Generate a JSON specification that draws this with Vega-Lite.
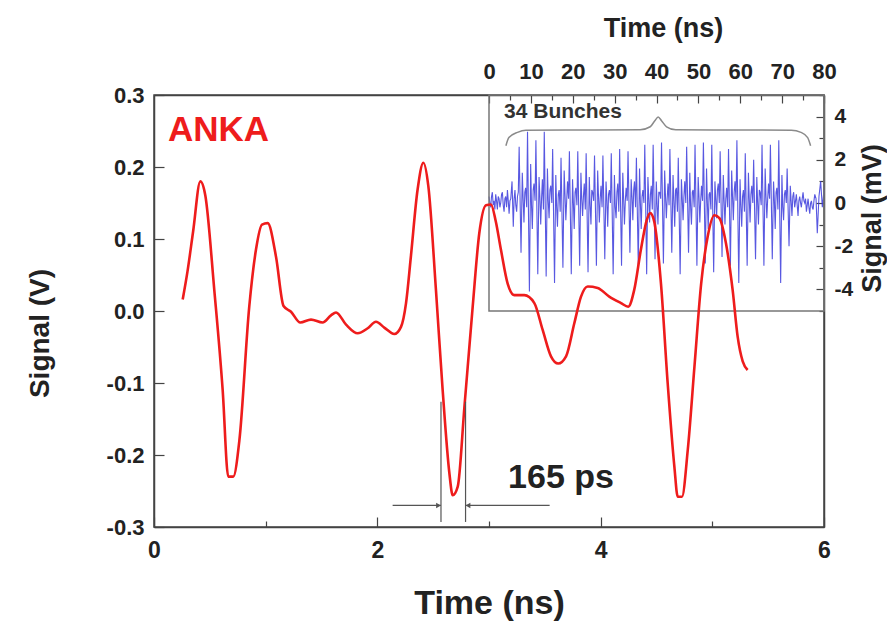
{
  "$schema": "https://vega.github.io/schema/vega-lite/v6.json",
  "width": 670,
  "height": 432,
  "autosize": {"type": "none"},
  "padding": {"left": 154, "top": 95, "right": 63, "bottom": 95},
  "background": "white",
  "config": {
    "font": "Liberation Sans",
    "view": {"stroke": "#444", "strokeWidth": 1.5},
    "axis": {
      "labelFont": "Liberation Sans",
      "labelFontWeight": "bold",
      "labelColor": "#222",
      "titleFont": "Liberation Sans",
      "titleFontWeight": "bold",
      "titleColor": "#222",
      "domainColor": "#444",
      "domainWidth": 1.5,
      "tickColor": "#444",
      "tickWidth": 1.2,
      "grid": false
    }
  },
  "datasets": {
    "ref": [
      {"t": 0.257, "v": 0.016}, {"t": 0.3, "v": 0.055}, {"t": 0.35, "v": 0.11}, {"t": 0.415, "v": 0.18},
      {"t": 0.46, "v": 0.16}, {"t": 0.54, "v": 0.029}, {"t": 0.615, "v": -0.11}, {"t": 0.665, "v": -0.23},
      {"t": 0.71, "v": -0.23}, {"t": 0.765, "v": -0.179}, {"t": 0.853, "v": 0.006}, {"t": 0.913, "v": 0.085},
      {"t": 0.967, "v": 0.12}, {"t": 1.018, "v": 0.122}, {"t": 1.093, "v": 0.075}, {"t": 1.16, "v": 0.007},
      {"t": 1.227, "v": -0.001}, {"t": 1.31, "v": -0.016}, {"t": 1.406, "v": -0.012}, {"t": 1.51, "v": -0.016},
      {"t": 1.585, "v": -0.006}, {"t": 1.63, "v": -0.002}, {"t": 1.72, "v": -0.019}, {"t": 1.824, "v": -0.031},
      {"t": 1.914, "v": -0.024}, {"t": 1.988, "v": -0.015}, {"t": 2.062, "v": -0.023}, {"t": 2.152, "v": -0.032},
      {"t": 2.212, "v": -0.022}, {"t": 2.257, "v": 0.011}, {"t": 2.3, "v": 0.075}, {"t": 2.36, "v": 0.168},
      {"t": 2.412, "v": 0.206}, {"t": 2.457, "v": 0.173}, {"t": 2.525, "v": 0.029}, {"t": 2.585, "v": -0.11},
      {"t": 2.645, "v": -0.225}, {"t": 2.675, "v": -0.256}, {"t": 2.72, "v": -0.244}, {"t": 2.78, "v": -0.133},
      {"t": 2.854, "v": 0.006}, {"t": 2.913, "v": 0.108}, {"t": 2.973, "v": 0.147}, {"t": 3.018, "v": 0.148},
      {"t": 3.06, "v": 0.125}, {"t": 3.107, "v": 0.085}, {"t": 3.167, "v": 0.038}, {"t": 3.227, "v": 0.022},
      {"t": 3.316, "v": 0.022}, {"t": 3.406, "v": 0.011}, {"t": 3.48, "v": -0.026}, {"t": 3.555, "v": -0.063},
      {"t": 3.62, "v": -0.073}, {"t": 3.69, "v": -0.063}, {"t": 3.764, "v": -0.017}, {"t": 3.824, "v": 0.02},
      {"t": 3.884, "v": 0.034}, {"t": 3.973, "v": 0.032}, {"t": 4.077, "v": 0.02}, {"t": 4.182, "v": 0.011},
      {"t": 4.247, "v": 0.006}, {"t": 4.3, "v": 0.029}, {"t": 4.36, "v": 0.085}, {"t": 4.412, "v": 0.126},
      {"t": 4.444, "v": 0.136}, {"t": 4.48, "v": 0.124}, {"t": 4.54, "v": 0.038}, {"t": 4.6, "v": -0.1},
      {"t": 4.66, "v": -0.216}, {"t": 4.69, "v": -0.258}, {"t": 4.728, "v": -0.258}, {"t": 4.78, "v": -0.193},
      {"t": 4.84, "v": -0.077}, {"t": 4.9, "v": 0.038}, {"t": 4.958, "v": 0.103}, {"t": 5.018, "v": 0.133},
      {"t": 5.063, "v": 0.129}, {"t": 5.122, "v": 0.094}, {"t": 5.182, "v": 0.029}, {"t": 5.227, "v": -0.036},
      {"t": 5.272, "v": -0.07}, {"t": 5.316, "v": -0.082}
    ],
    "bunch": [
      {"t": 0, "s": 0.3}, {"t": 0.2, "s": 0.0}, {"t": 0.4, "s": -0.2}, {"t": 0.6, "s": 0.3}, {"t": 0.8, "s": 0.5},
      {"t": 1.0, "s": -0.1}, {"t": 1.2, "s": 0.1}, {"t": 1.4, "s": -0.3}, {"t": 1.6, "s": 0.4}, {"t": 1.8, "s": 0.1},
      {"t": 2.0, "s": -0.3}, {"t": 2.2, "s": 0.3}, {"t": 2.4, "s": 0.2}, {"t": 2.6, "s": -0.2}, {"t": 2.8, "s": 0.0},
      {"t": 3.0, "s": 0.4}, {"t": 3.2, "s": 0.5}, {"t": 3.4, "s": -0.1}, {"t": 3.6, "s": -0.4}, {"t": 3.8, "s": 0.2},
      {"t": 4.0, "s": 0.3}, {"t": 4.2, "s": -0.2}, {"t": 4.4, "s": 0.6}, {"t": 4.6, "s": 0.1}, {"t": 4.8, "s": -0.5},
      {"t": 5.0, "s": 0.1}, {"t": 5.2, "s": 0.2}, {"t": 5.5, "s": 1.0}, {"t": 5.8, "s": -1.1}, {"t": 6.0, "s": 0.2},
      {"t": 6.2, "s": 0.6}, {"t": 6.4, "s": -0.1}, {"t": 6.6, "s": -0.4}, {"t": 6.8, "s": 0.3}, {"t": 7.0, "s": 0.5},
      {"t": 7.2, "s": 2.6}, {"t": 7.65, "s": -2.3}, {"t": 7.95, "s": 1.4}, {"t": 8.15, "s": 0.2}, {"t": 8.35, "s": -0.9}, {"t": 8.55, "s": 0.5}, {"t": 8.75, "s": 0.7}, {"t": 9.0, "s": -0.2},
      {"t": 9.2, "s": 3.3}, {"t": 9.65, "s": -4.1}, {"t": 9.95, "s": 1.8}, {"t": 10.15, "s": -0.1}, {"t": 10.35, "s": -1.2}, {"t": 10.55, "s": 0.6}, {"t": 10.75, "s": 0.9}, {"t": 11.0, "s": 0.1},
      {"t": 11.2, "s": 2.9}, {"t": 11.65, "s": -3.3}, {"t": 11.95, "s": 1.2}, {"t": 12.15, "s": 0.3}, {"t": 12.35, "s": -1.0}, {"t": 12.55, "s": 0.2}, {"t": 12.75, "s": 1.1}, {"t": 13.0, "s": -0.3},
      {"t": 13.2, "s": 3.3}, {"t": 13.65, "s": -3.4}, {"t": 13.95, "s": 1.6}, {"t": 14.15, "s": 0.1}, {"t": 14.35, "s": -0.7}, {"t": 14.55, "s": 0.6}, {"t": 14.75, "s": 0.8}, {"t": 15.0, "s": 0.0},
      {"t": 15.2, "s": 2.5}, {"t": 15.65, "s": -3.7}, {"t": 15.95, "s": 1.3}, {"t": 16.15, "s": -0.2}, {"t": 16.35, "s": -1.1}, {"t": 16.55, "s": 0.4}, {"t": 16.75, "s": 0.6}, {"t": 17.0, "s": -0.4},
      {"t": 17.2, "s": 2.1}, {"t": 17.65, "s": -3.0}, {"t": 17.95, "s": 1.5}, {"t": 18.15, "s": 0.4}, {"t": 18.35, "s": -0.8}, {"t": 18.55, "s": 0.1}, {"t": 18.75, "s": 1.0}, {"t": 19.0, "s": 0.2},
      {"t": 19.2, "s": 2.4}, {"t": 19.65, "s": -3.3}, {"t": 19.95, "s": 1.1}, {"t": 20.15, "s": 0.0}, {"t": 20.35, "s": -1.2}, {"t": 20.55, "s": 0.5}, {"t": 20.75, "s": 0.7}, {"t": 21.0, "s": -0.1},
      {"t": 21.2, "s": 2.4}, {"t": 21.65, "s": -2.9}, {"t": 21.95, "s": 1.4}, {"t": 22.15, "s": 0.2}, {"t": 22.35, "s": -0.6}, {"t": 22.55, "s": 0.3}, {"t": 22.75, "s": 0.9}, {"t": 23.0, "s": -0.3},
      {"t": 23.2, "s": 2.3}, {"t": 23.65, "s": -3.2}, {"t": 23.95, "s": 1.2}, {"t": 24.15, "s": -0.1}, {"t": 24.35, "s": -1.0}, {"t": 24.55, "s": 0.6}, {"t": 24.75, "s": 0.5}, {"t": 25.0, "s": 0.1},
      {"t": 25.2, "s": 2.2}, {"t": 25.65, "s": -2.9}, {"t": 25.95, "s": 1.5}, {"t": 26.15, "s": 0.3}, {"t": 26.35, "s": -0.9}, {"t": 26.55, "s": 0.2}, {"t": 26.75, "s": 0.8}, {"t": 27.0, "s": -0.2},
      {"t": 27.2, "s": 2.2}, {"t": 27.65, "s": -2.6}, {"t": 27.95, "s": 1.0}, {"t": 28.15, "s": 0.1}, {"t": 28.35, "s": -1.1}, {"t": 28.55, "s": 0.4}, {"t": 28.75, "s": 0.6}, {"t": 29.0, "s": 0.0},
      {"t": 29.2, "s": 2.3}, {"t": 29.65, "s": -3.3}, {"t": 29.95, "s": 1.3}, {"t": 30.15, "s": -0.2}, {"t": 30.35, "s": -0.7}, {"t": 30.55, "s": 0.5}, {"t": 30.75, "s": 0.9}, {"t": 31.0, "s": -0.4},
      {"t": 31.2, "s": 2.5}, {"t": 31.65, "s": -2.9}, {"t": 31.95, "s": 1.4}, {"t": 32.15, "s": 0.2}, {"t": 32.35, "s": -1.0}, {"t": 32.55, "s": 0.1}, {"t": 32.75, "s": 0.7}, {"t": 33.0, "s": 0.1},
      {"t": 33.2, "s": 2.4}, {"t": 33.65, "s": -2.3}, {"t": 33.95, "s": 1.1}, {"t": 34.15, "s": 0.3}, {"t": 34.35, "s": -0.8}, {"t": 34.55, "s": 0.6}, {"t": 34.75, "s": 1.0}, {"t": 35.0, "s": -0.2},
      {"t": 35.2, "s": 2.1}, {"t": 35.65, "s": -2.9}, {"t": 35.95, "s": 1.6}, {"t": 36.15, "s": 0.0}, {"t": 36.35, "s": -1.2}, {"t": 36.55, "s": 0.3}, {"t": 36.75, "s": 0.6}, {"t": 37.0, "s": 0.0},
      {"t": 37.2, "s": 2.7}, {"t": 37.65, "s": -3.3}, {"t": 37.95, "s": 1.2}, {"t": 38.15, "s": 0.2}, {"t": 38.35, "s": -0.9}, {"t": 38.55, "s": 0.4}, {"t": 38.75, "s": 0.8}, {"t": 39.0, "s": -0.3},
      {"t": 39.2, "s": 2.7}, {"t": 39.65, "s": -2.6}, {"t": 39.95, "s": 1.0}, {"t": 40.15, "s": -0.1}, {"t": 40.35, "s": -1.0}, {"t": 40.55, "s": 0.5}, {"t": 40.75, "s": 0.5}, {"t": 41.0, "s": 0.2},
      {"t": 41.2, "s": 2.8}, {"t": 41.65, "s": -2.8}, {"t": 41.95, "s": 1.5}, {"t": 42.15, "s": 0.3}, {"t": 42.35, "s": -0.7}, {"t": 42.55, "s": 0.2}, {"t": 42.75, "s": 0.9}, {"t": 43.0, "s": -0.1},
      {"t": 43.2, "s": 2.5}, {"t": 43.65, "s": -2.3}, {"t": 43.95, "s": 1.3}, {"t": 44.15, "s": 0.1}, {"t": 44.35, "s": -1.1}, {"t": 44.55, "s": 0.6}, {"t": 44.75, "s": 0.7}, {"t": 45.0, "s": -0.4},
      {"t": 45.2, "s": 2.1}, {"t": 45.65, "s": -3.3}, {"t": 45.95, "s": 1.1}, {"t": 46.15, "s": 0.2}, {"t": 46.35, "s": -0.8}, {"t": 46.55, "s": 0.3}, {"t": 46.75, "s": 1.0}, {"t": 47.0, "s": 0.0},
      {"t": 47.2, "s": 2.6}, {"t": 47.65, "s": -2.3}, {"t": 47.95, "s": 1.4}, {"t": 48.15, "s": -0.2}, {"t": 48.35, "s": -1.0}, {"t": 48.55, "s": 0.5}, {"t": 48.75, "s": 0.6}, {"t": 49.0, "s": -0.2},
      {"t": 49.2, "s": 2.7}, {"t": 49.65, "s": -2.9}, {"t": 49.95, "s": 1.2}, {"t": 50.15, "s": 0.3}, {"t": 50.35, "s": -0.9}, {"t": 50.55, "s": 0.1}, {"t": 50.75, "s": 0.8}, {"t": 51.0, "s": 0.1},
      {"t": 51.2, "s": 2.8}, {"t": 51.65, "s": -2.8}, {"t": 51.95, "s": 1.6}, {"t": 52.15, "s": 0.0}, {"t": 52.35, "s": -1.2}, {"t": 52.55, "s": 0.4}, {"t": 52.75, "s": 0.5}, {"t": 53.0, "s": -0.3},
      {"t": 53.2, "s": 2.7}, {"t": 53.65, "s": -3.2}, {"t": 53.95, "s": 1.0}, {"t": 54.15, "s": 0.2}, {"t": 54.35, "s": -0.7}, {"t": 54.55, "s": 0.6}, {"t": 54.75, "s": 0.9}, {"t": 55.0, "s": 0.0},
      {"t": 55.2, "s": 2.4}, {"t": 55.65, "s": -2.5}, {"t": 55.95, "s": 1.3}, {"t": 56.15, "s": 0.1}, {"t": 56.35, "s": -1.0}, {"t": 56.55, "s": 0.2}, {"t": 56.75, "s": 0.7}, {"t": 57.0, "s": -0.2},
      {"t": 57.2, "s": 2.5}, {"t": 57.65, "s": -2.9}, {"t": 57.95, "s": 1.5}, {"t": 58.15, "s": 0.3}, {"t": 58.35, "s": -0.8}, {"t": 58.55, "s": 0.5}, {"t": 58.75, "s": 1.0}, {"t": 59.0, "s": 0.1},
      {"t": 59.2, "s": 2.9}, {"t": 59.65, "s": -3.7}, {"t": 59.95, "s": 1.1}, {"t": 60.15, "s": -0.1}, {"t": 60.35, "s": -1.1}, {"t": 60.55, "s": 0.3}, {"t": 60.75, "s": 0.6}, {"t": 61.0, "s": -0.4},
      {"t": 61.2, "s": 2.3}, {"t": 61.65, "s": -2.9}, {"t": 61.95, "s": 1.4}, {"t": 62.15, "s": 0.2}, {"t": 62.35, "s": -0.9}, {"t": 62.55, "s": 0.4}, {"t": 62.75, "s": 0.8}, {"t": 63.0, "s": 0.0},
      {"t": 63.2, "s": 2.0}, {"t": 63.65, "s": -2.6}, {"t": 63.95, "s": 1.2}, {"t": 64.15, "s": 0.0}, {"t": 64.35, "s": -1.0}, {"t": 64.55, "s": 0.6}, {"t": 64.75, "s": 0.5}, {"t": 65.0, "s": -0.1},
      {"t": 65.2, "s": 2.7}, {"t": 65.65, "s": -2.9}, {"t": 65.95, "s": 1.6}, {"t": 66.15, "s": 0.3}, {"t": 66.35, "s": -0.7}, {"t": 66.55, "s": 0.2}, {"t": 66.75, "s": 0.9}, {"t": 67.0, "s": 0.2},
      {"t": 67.2, "s": 2.7}, {"t": 67.65, "s": -2.6}, {"t": 67.95, "s": 1.0}, {"t": 68.15, "s": 0.1}, {"t": 68.35, "s": -1.2}, {"t": 68.55, "s": 0.5}, {"t": 68.75, "s": 0.7}, {"t": 69.0, "s": -0.3},
      {"t": 69.2, "s": 2.9}, {"t": 69.65, "s": -3.7}, {"t": 69.95, "s": 1.3}, {"t": 70.15, "s": -0.2}, {"t": 70.35, "s": -0.8}, {"t": 70.55, "s": 0.4}, {"t": 70.75, "s": 0.6}, {"t": 71.0, "s": 0.0},
      {"t": 71.2, "s": 1.6}, {"t": 71.65, "s": -2.0}, {"t": 71.95, "s": 0.8}, {"t": 72.15, "s": 0.1}, {"t": 72.35, "s": -0.6}, {"t": 72.55, "s": 0.3}, {"t": 72.75, "s": 0.5}, {"t": 73.0, "s": -0.2},
      {"t": 73.2, "s": 0.1}, {"t": 73.4, "s": 0.4}, {"t": 73.6, "s": -0.1}, {"t": 73.8, "s": -0.6}, {"t": 74.0, "s": 0.1}, {"t": 74.2, "s": 0.3},
      {"t": 74.4, "s": 0.0}, {"t": 74.6, "s": -0.2}, {"t": 74.8, "s": 0.2}, {"t": 75.0, "s": 0.5}, {"t": 75.2, "s": 0.1}, {"t": 75.4, "s": 0.0},
      {"t": 75.6, "s": 0.2}, {"t": 75.8, "s": -0.4}, {"t": 76.0, "s": -0.1}, {"t": 76.2, "s": 0.2}, {"t": 76.4, "s": -0.2}, {"t": 76.6, "s": -0.5},
      {"t": 76.8, "s": 0.0}, {"t": 77.0, "s": 0.1}, {"t": 77.2, "s": -0.2}, {"t": 77.4, "s": -0.3}, {"t": 77.6, "s": 0.1}, {"t": 77.8, "s": 0.4},
      {"t": 78.1, "s": 0.2}, {"t": 78.4, "s": -1.4}, {"t": 78.8, "s": 0.3}, {"t": 79.2, "s": 1.0}, {"t": 79.6, "s": -0.2}, {"t": 80.0, "s": 0.6}
    ],
    "brace": [
      {"t": 4.04, "s": 2.65}, {"t": 4.75, "s": 3.03}, {"t": 6.8, "s": 3.27}, {"t": 8.8, "s": 3.37},
      {"t": 36.1, "s": 3.39}, {"t": 38.5, "s": 3.53}, {"t": 39.6, "s": 3.81}, {"t": 40.4, "s": 3.98},
      {"t": 41.2, "s": 3.81}, {"t": 42.4, "s": 3.53}, {"t": 44.6, "s": 3.39}, {"t": 72.2, "s": 3.37},
      {"t": 74.5, "s": 3.27}, {"t": 76.1, "s": 3.03}, {"t": 76.8, "s": 2.65}
    ]
  },
  "layer": [
    {
      "layer": [
        {
          "data": {"name": "bunch"},
          "mark": {"type": "line", "color": "#3b3bdc", "strokeWidth": 1.1, "opacity": 0.85},
          "encoding": {
            "x": {
              "field": "t", "type": "quantitative",
              "scale": {"domain": [-80, 80], "nice": false, "zero": false},
              "axis": {
                "orient": "top",
                "values": [0, 5, 10, 15, 20, 25, 30, 35, 40, 45, 50, 55, 60, 65, 70, 75, 80],
                "labelExpr": "datum.value % 10 == 0 ? toString(datum.value) : ''",
                "tickSize": {"condition": {"test": "datum.value % 10 == 0", "value": -8}, "value": -5},
                "labelFontSize": 22,
                "labelPadding": 20,
                "labelFlush": false,
                "labelOverlap": false,
                "title": "Time (ns)",
                "titleFontSize": 27,
                "titleX": 509,
                "titleY": -67,
                "titleBaseline": "middle",
                "titleAlign": "center"
              }
            },
            "y": {
              "field": "s", "type": "quantitative",
              "scale": {"domain": [-15, 5], "nice": false, "zero": false},
              "axis": {
                "orient": "right",
                "values": [-5, -4, -3, -2, -1, 0, 1, 2, 3, 4, 5],
                "labelExpr": "datum.value % 2 == 0 ? toString(datum.value) : ''",
                "tickSize": {"condition": {"test": "datum.value % 2 == 0", "value": -8}, "value": -5},
                "labelFontSize": 21,
                "labelPadding": 18,
                "labelFlush": false,
                "labelOverlap": false,
                "title": "Signal (mV)",
                "titleFontSize": 27,
                "titleAngle": 270,
                "titleX": 48,
                "titleY": 123,
                "titleBaseline": "middle",
                "titleAlign": "center"
              }
            }
          }
        },
        {
          "data": {"values": [{}]},
          "mark": {"type": "rect", "fillOpacity": 0, "stroke": "#777", "strokeWidth": 1.5},
          "encoding": {
            "x": {"datum": 0, "type": "quantitative"},
            "x2": {"datum": 80},
            "y": {"datum": -5, "type": "quantitative"},
            "y2": {"datum": 5}
          }
        },
        {
          "data": {"name": "brace"},
          "mark": {"type": "line", "color": "#8a8a8a", "strokeWidth": 1.5, "interpolate": "monotone"},
          "encoding": {
            "x": {"field": "t", "type": "quantitative"},
            "y": {"field": "s", "type": "quantitative"}
          }
        },
        {
          "data": {"values": [{"t": 3.6, "s": 4.2, "label": "34 Bunches"}]},
          "mark": {"type": "text", "align": "left", "baseline": "middle", "fontSize": 21, "fontWeight": "bold", "color": "#333"},
          "encoding": {
            "x": {"field": "t", "type": "quantitative"},
            "y": {"field": "s", "type": "quantitative"},
            "text": {"field": "label"}
          }
        }
      ]
    },
    {
      "layer": [
        {
          "data": {"name": "ref"},
          "mark": {"type": "line", "color": "#ee1c1c", "strokeWidth": 2.6, "interpolate": "monotone"},
          "encoding": {
            "x": {
              "field": "t", "type": "quantitative",
              "scale": {"domain": [0, 6], "nice": false, "zero": false},
              "axis": {
                "orient": "bottom",
                "values": [0, 1, 2, 3, 4, 5, 6],
                "labelExpr": "datum.value % 2 == 0 ? toString(datum.value) : ''",
                "tickSize": {"condition": {"test": "datum.value % 2 == 0", "value": -10}, "value": -6},
                "labelFontSize": 23,
                "labelPadding": 22,
                "labelFlush": false,
                "labelOverlap": false,
                "title": "Time (ns)",
                "titleFontSize": 34,
                "titleY": 76,
                "titleBaseline": "middle",
                "titleAlign": "center"
              }
            },
            "y": {
              "field": "v", "type": "quantitative",
              "scale": {"domain": [-0.3, 0.3], "nice": false, "zero": false},
              "axis": {
                "orient": "left",
                "values": [-0.3, -0.25, -0.2, -0.15, -0.1, -0.05, 0, 0.05, 0.1, 0.15, 0.2, 0.25, 0.3],
                "labelExpr": "abs(round(datum.value * 100)) % 10 == 0 ? (datum.value < -0.001 ? '-' : '') + format(abs(datum.value), '.1f') : ''",
                "tickSize": {"condition": {"test": "abs(round(datum.value * 100)) % 10 == 0", "value": -10}, "value": -6},
                "labelFontSize": 22,
                "labelPadding": 20,
                "labelFlush": false,
                "labelOverlap": false,
                "title": "Signal (V)",
                "titleFontSize": 28,
                "titleX": -114,
                "titleY": 238,
                "titleBaseline": "middle",
                "titleAlign": "center"
              }
            }
          }
        },
        {
          "data": {"values": [{"t": 2.57, "v": -0.126, "v2": -0.293}, {"t": 2.79, "v": -0.126, "v2": -0.293}]},
          "mark": {"type": "rule", "color": "#555", "strokeWidth": 1.2},
          "encoding": {
            "x": {"field": "t", "type": "quantitative"},
            "y": {"field": "v", "type": "quantitative"},
            "y2": {"field": "v2"}
          }
        },
        {
          "data": {"values": [{"t": 2.137, "t2": 2.57, "v": -0.27}, {"t": 2.79, "t2": 3.543, "v": -0.27}]},
          "mark": {"type": "rule", "color": "#555", "strokeWidth": 1.2},
          "encoding": {
            "x": {"field": "t", "type": "quantitative"},
            "x2": {"field": "t2"},
            "y": {"field": "v", "type": "quantitative"}
          }
        },
        {
          "data": {"values": [{"t": 2.548, "v": -0.27, "dir": "triangle-right"}, {"t": 2.812, "v": -0.27, "dir": "triangle-left"}]},
          "mark": {"type": "point", "filled": true, "color": "#555", "size": 30, "opacity": 1},
          "encoding": {
            "x": {"field": "t", "type": "quantitative"},
            "y": {"field": "v", "type": "quantitative"},
            "shape": {"field": "dir", "type": "nominal", "scale": {"domain": ["triangle-right", "triangle-left"], "range": ["triangle-right", "triangle-left"]}, "legend": null}
          }
        },
        {
          "data": {"values": [{"t": 0.125, "v": 0.251, "label": "ANKA"}]},
          "mark": {"type": "text", "align": "left", "baseline": "middle", "fontSize": 35, "fontWeight": "bold", "color": "#ee1c1c"},
          "encoding": {
            "x": {"field": "t", "type": "quantitative"},
            "y": {"field": "v", "type": "quantitative"},
            "text": {"field": "label"}
          }
        },
        {
          "data": {"values": [{"t": 3.645, "v": -0.232, "label": "165 ps"}]},
          "mark": {"type": "text", "align": "center", "baseline": "middle", "fontSize": 34, "fontWeight": "bold", "color": "#222"},
          "encoding": {
            "x": {"field": "t", "type": "quantitative"},
            "y": {"field": "v", "type": "quantitative"},
            "text": {"field": "label"}
          }
        }
      ]
    }
  ],
  "resolve": {"scale": {"x": "independent", "y": "independent"}}
}
